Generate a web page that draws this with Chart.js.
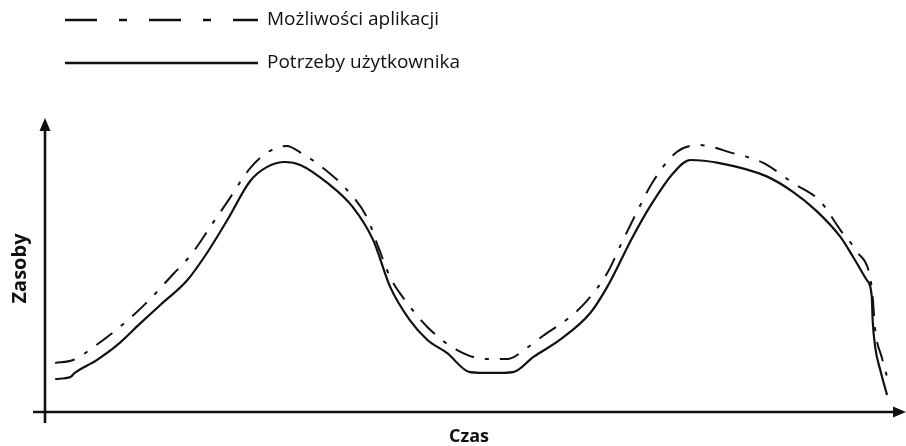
<!DOCTYPE html>
<html lang="pl">
<head>
<meta charset="utf-8">
<title>Zasoby w czasie</title>
<script src="https://cdn.jsdelivr.net/npm/chart.js@4.4.1/dist/chart.umd.min.js"></script>
<style>
  html, body { margin: 0; padding: 0; background: #fff; }
  #wrap { width: 906px; height: 446px; }
</style>
</head>
<body>
<div id="wrap"><canvas id="chart"></canvas></div>
<script>
// Dane (czas 0-100, zasoby 0-100)
const seriesLabels = ['Możliwości aplikacji', 'Potrzeby użytkownika'];

const capacityTime = [1.2, 3.3, 5.9, 8.8, 11.8, 15.1, 17.3, 19.8, 21.5, 24.2, 26.3, 28.5, 30.4, 32.8, 35.6, 38.0, 39.3, 40.7, 42.7, 45.2, 48.6, 51.9, 54.6, 56.8, 58.7, 61.9, 63.9, 66.3, 68.0, 69.8, 71.6, 74.5, 77.2, 81.1, 84.7, 88.2, 91.4, 93.8, 95.8, 97.3, 97.6, 97.9, 98.7, 99.3];
const capacityValues = [17.1, 18.1, 23.0, 29.6, 37.6, 48.0, 55.1, 65.9, 73.2, 85.0, 90.6, 92.7, 89.9, 85.0, 77.4, 67.6, 57.5, 47.0, 38.0, 29.3, 21.6, 18.5, 18.5, 22.3, 26.5, 33.1, 38.7, 48.4, 58.9, 69.7, 79.8, 90.6, 93.0, 90.2, 86.8, 79.8, 73.5, 63.4, 55.7, 47.0, 40.1, 28.6, 18.8, 12.2];

const demandTime = [1.2, 3.0, 3.5, 6.1, 8.5, 11.2, 13.6, 16.8, 19.1, 21.5, 24.2, 26.2, 28.3, 30.1, 33.3, 36.3, 38.7, 40.7, 43.0, 45.1, 47.4, 50.1, 52.8, 55.2, 57.6, 60.7, 64.3, 66.3, 69.3, 71.3, 74.1, 76.1, 79.4, 85.1, 88.2, 91.0, 93.8, 95.3, 96.9, 97.5, 97.6, 97.9, 98.5, 99.3];
const demandValues = [11.5, 12.2, 13.6, 18.1, 23.3, 30.8, 37.3, 46.0, 55.4, 66.9, 80.5, 85.4, 87.1, 86.1, 79.8, 71.4, 59.9, 43.6, 32.1, 25.1, 20.6, 13.9, 13.6, 13.9, 19.2, 25.1, 34.5, 43.6, 61.0, 71.4, 83.3, 87.8, 86.8, 82.1, 76.7, 70.0, 61.0, 54.0, 46.0, 40.1, 32.1, 22.6, 14.6, 5.9];

const axisTitles = { x: 'Czas', y: 'Zasoby' };

const INK = '#111';
const FONT = "'Open Sans', 'Noto Sans', sans-serif";

function toPoints(xs, ys) {
    return xs.map((x, i) => ({ x, y: ys[i] }));
}

// Osie ze strzałkami i legenda rysowane ręcznie
const arrowAxes = {
    id: 'arrowAxes',
    beforeDatasetsDraw(chart) {
        const { ctx, chartArea: a } = chart;
        ctx.save();
        ctx.strokeStyle = INK;
        ctx.fillStyle = INK;
        ctx.lineWidth = 2.6;
        ctx.lineCap = 'butt';

        // oś Y
        ctx.beginPath();
        ctx.moveTo(a.left, a.bottom + 11);
        ctx.lineTo(a.left, a.top + 4);
        ctx.stroke();
        ctx.beginPath();
        ctx.moveTo(a.left, a.top - 7);
        ctx.lineTo(a.left - 5.5, a.top + 6);
        ctx.lineTo(a.left + 5.5, a.top + 6);
        ctx.closePath();
        ctx.fill();

        // oś X
        ctx.beginPath();
        ctx.moveTo(a.left - 12, a.bottom);
        ctx.lineTo(a.right + 4, a.bottom);
        ctx.stroke();
        ctx.beginPath();
        ctx.moveTo(a.right + 13, a.bottom);
        ctx.lineTo(a.right, a.bottom - 5.5);
        ctx.lineTo(a.right, a.bottom + 5.5);
        ctx.closePath();
        ctx.fill();
        ctx.restore();
    },
    afterDraw(chart) {
        const { ctx } = chart;
        const x0 = 65, x1 = 258, rowY = [20, 63];
        ctx.save();
        ctx.font = '19px ' + FONT;
        ctx.textBaseline = 'middle';
        chart.data.datasets.forEach((ds, i) => {
            ctx.strokeStyle = INK;
            ctx.lineWidth = 2.4;
            ctx.setLineDash(ds.legendDash || []);
            ctx.beginPath();
            ctx.moveTo(x0, rowY[i]);
            ctx.lineTo(x1, rowY[i]);
            ctx.stroke();
            ctx.setLineDash([]);
            ctx.fillStyle = INK;
            ctx.fillText(ds.label, x1 + 9, rowY[i]);
        });
        ctx.restore();
    }
};

new Chart(document.getElementById('chart'), {
    type: 'line',
    data: {
        datasets: [
            {
                label: seriesLabels[0],
                data: toPoints(capacityTime, capacityValues),
                borderColor: INK,
                borderWidth: 2,
                borderDash: [20, 11, 4, 11],
                legendDash: [32, 22, 8, 22],
                pointRadius: 0,
                cubicInterpolationMode: 'monotone',
                fill: false
            },
            {
                label: seriesLabels[1],
                data: toPoints(demandTime, demandValues),
                borderColor: INK,
                borderWidth: 2.2,
                pointRadius: 0,
                cubicInterpolationMode: 'monotone',
                fill: false
            }
        ]
    },
    options: {
        responsive: true,
        maintainAspectRatio: false,
        animation: false,
        layout: { padding: { left: 0, right: 13, top: 125, bottom: 0 } },
        scales: {
            x: {
                type: 'linear',
                min: 0,
                max: 100,
                grid: { display: false, drawTicks: false },
                border: { display: false },
                ticks: { display: false },
                title: {
                    display: true,
                    text: axisTitles.x,
                    color: INK,
                    font: { family: FONT, size: 18, weight: 'bold', lineHeight: 1.0 },
                    padding: { top: 16, bottom: 0 }
                }
            },
            y: {
                min: 0,
                max: 100,
                grid: { display: false, drawTicks: false },
                border: { display: false },
                ticks: { display: false },
                title: {
                    display: true,
                    text: axisTitles.y,
                    color: INK,
                    font: { family: FONT, size: 20, weight: 'bold', lineHeight: 1.2 },
                    padding: { top: 8, bottom: 13 }
                }
            }
        },
        plugins: {
            legend: { display: false },
            tooltip: { enabled: false }
        }
    },
    plugins: [arrowAxes]
});
</script>
</body>
</html>
